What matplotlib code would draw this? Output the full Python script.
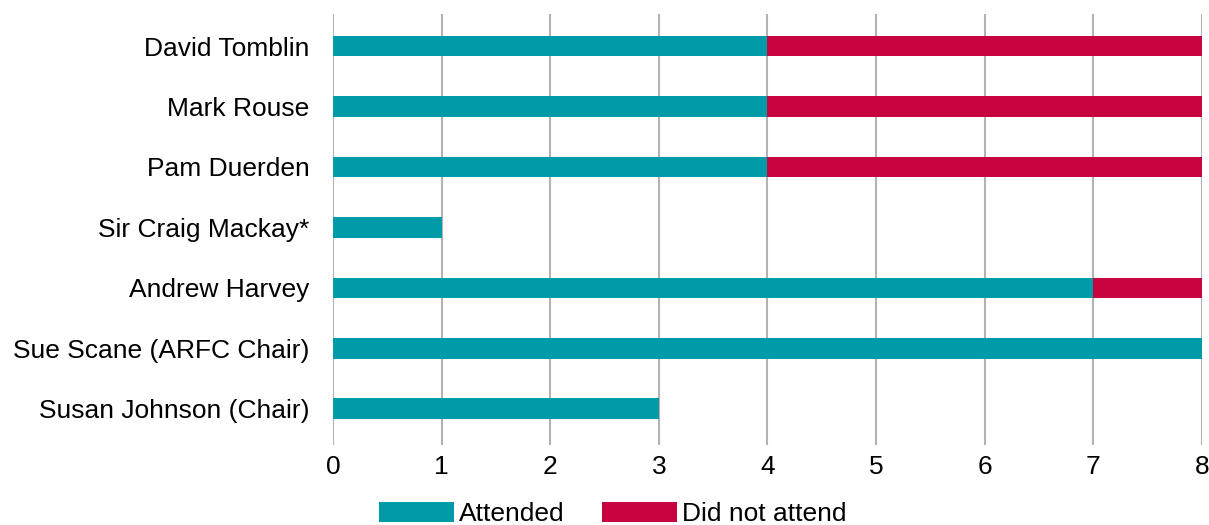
import matplotlib.pyplot as plt

names = ["Susan Johnson (Chair)", "Sue Scane (ARFC Chair)", "Andrew Harvey",
         "Sir Craig Mackay*", "Pam Duerden", "Mark Rouse", "David Tomblin"]
attended = [3, 8, 7, 1, 4, 4, 4]
not_attended = [0, 0, 1, 0, 4, 4, 4]

teal = "#009ba9"
red = "#c70440"

plt.rcParams['font.family'] = ['Liberation Sans', 'DejaVu Sans']

fig = plt.figure(figsize=(12.09, 5.25), dpi=100)
ax = fig.add_axes([0.2754, 0.1524, 0.7188, 0.8209])

y = range(len(names))
ax.barh(y, attended, height=0.34, color=teal, label="Attended", zorder=3)
ax.barh(y, not_attended, left=attended, height=0.34, color=red,
        label="Did not attend", zorder=3)

ax.set_xlim(0, 8)
ax.set_ylim(-0.6, 6.53)
ax.set_xticks(range(9))
ax.set_yticks(list(y))
ax.set_yticklabels(names)
ax.xaxis.grid(True, color="#b3b3b3", linewidth=1.5, zorder=0)
for s in ax.spines.values():
    s.set_visible(False)
ax.tick_params(axis="both", length=0, labelsize=19)
ax.tick_params(axis="x", pad=7)
ax.tick_params(axis="y", pad=17)

fig.legend(loc="lower center", bbox_to_anchor=(0.507, -0.048), ncol=2,
           frameon=False, fontsize=19, handlelength=2.85, handleheight=0.8,
           handletextpad=0.2, columnspacing=1.4)

fig.savefig("out.png", dpi=100)
